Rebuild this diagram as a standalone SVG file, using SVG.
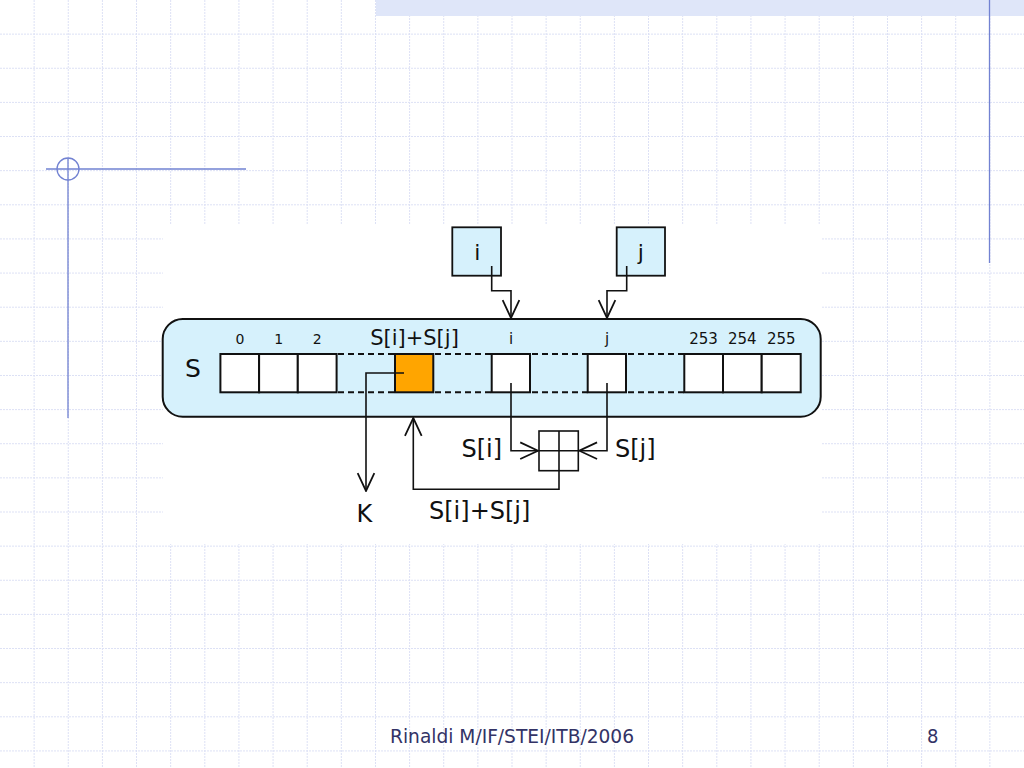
<svg xmlns="http://www.w3.org/2000/svg" width="1024" height="768" viewBox="0 0 1024 768">
<style>
  .grid { stroke: #dde1f5; stroke-width: 1; stroke-dasharray: 2 1; fill: none; }
  .deco { stroke: #7282d2; stroke-width: 1.3; fill: none; }
  .cell { fill: #ffffff; stroke: #111111; stroke-width: 2; }
  .dash { stroke: #111111; stroke-width: 2; stroke-dasharray: 6 4; fill: none; }
  .conn { stroke: #111111; stroke-width: 1.6; fill: none; }
  .t { font-family: "DejaVu Sans", Verdana, sans-serif; fill: #111111; }
  .foot { font-family: "DejaVu Sans Condensed", "DejaVu Sans", sans-serif; fill: #333366; font-size: 20px; }
</style>
<defs>
  <marker id="open" markerUnits="userSpaceOnUse" markerWidth="20" markerHeight="20" viewBox="-17 -9 18 18" refX="0" refY="0" orient="auto">
    <path d="M-16,-7.5 L0,0 L-16,7.5" fill="none" stroke="#111111" stroke-width="1.6"/>
  </marker>
</defs>

<g id="background">
  <rect x="0" y="0" width="1024" height="768" fill="#ffffff"/>
  <path class="grid" d="M34.13 0V768M68.27 0V768M102.4 0V768M136.53 0V768M170.67 0V768M204.8 0V768M238.93 0V768M273.07 0V768M307.2 0V768M341.33 0V768M375.47 0V768M409.6 0V768M443.73 0V768M477.87 0V768M512 0V768M546.13 0V768M580.27 0V768M614.4 0V768M648.53 0V768M682.67 0V768M716.8 0V768M750.93 0V768M785.07 0V768M819.2 0V768M853.33 0V768M887.47 0V768M921.6 0V768M955.73 0V768M989.87 0V768"/>
  <path class="grid" d="M0 34.13H1024M0 68.27H1024M0 102.4H1024M0 136.53H1024M0 170.67H1024M0 204.8H1024M0 238.93H1024M0 273.07H1024M0 307.2H1024M0 341.33H1024M0 375.47H1024M0 409.6H1024M0 443.73H1024M0 477.87H1024M0 512H1024M0 546.13H1024M0 580.27H1024M0 614.4H1024M0 648.53H1024M0 682.67H1024M0 716.8H1024M0 750.93H1024"/>
  <rect x="376" y="0" width="648" height="16" fill="#dfe6f9"/>
  <path class="deco" d="M989.5 0V263"/>
  <path class="deco" d="M46 169H246M68 158V418"/>
  <circle class="deco" cx="68" cy="169" r="11"/>
  <rect x="163" y="225" width="659" height="319" fill="#ffffff"/>
</g>

<g id="array-S">
  <rect x="162.7" y="319" width="658" height="97.7" rx="20" ry="20" fill="#d6f1fc" stroke="#111111" stroke-width="2"/>
  <text class="t" x="193" y="377" font-size="25" text-anchor="middle">S</text>
  <rect class="cell" x="220.4" y="354" width="38.7" height="38.3"/>
  <rect class="cell" x="259.1" y="354" width="38.7" height="38.3"/>
  <rect class="cell" x="297.8" y="354" width="38.8" height="38.3"/>
  <rect x="395" y="354" width="38.3" height="38.3" fill="#ffa500" stroke="#111111" stroke-width="2"/>
  <rect class="cell" x="491.7" y="354" width="38.3" height="38.3"/>
  <rect class="cell" x="587.7" y="354" width="38.3" height="38.3"/>
  <rect class="cell" x="684.3" y="354" width="38.7" height="38.3"/>
  <rect class="cell" x="723" y="354" width="38.7" height="38.3"/>
  <rect class="cell" x="761.7" y="354" width="39" height="38.3"/>
  <path class="dash" d="M338 354H395M338 392.3H395M435 354H491.7M435 392.3H491.7M532 354H587.7M532 392.3H587.7M628 354H684.3M628 392.3H684.3"/>
  <text class="t" x="240" y="344" font-size="14" text-anchor="middle">0</text>
  <text class="t" x="278.6" y="344" font-size="14" text-anchor="middle">1</text>
  <text class="t" x="317.3" y="344" font-size="14" text-anchor="middle">2</text>
  <text class="t" x="414.5" y="345" font-size="21" text-anchor="middle">S[i]+S[j]</text>
  <text class="t" x="511" y="344" font-size="15" text-anchor="middle">i</text>
  <text class="t" x="607" y="344" font-size="15" text-anchor="middle">j</text>
  <text class="t" x="703.6" y="344" font-size="15" text-anchor="middle">253</text>
  <text class="t" x="742.3" y="344" font-size="15" text-anchor="middle">254</text>
  <text class="t" x="781.2" y="344" font-size="15" text-anchor="middle">255</text>
</g>

<g id="box-i">
  <rect x="452.3" y="227.3" width="48.7" height="48.4" fill="#d6f1fc" stroke="#111111" stroke-width="1.8"/>
  <text class="t" x="477.3" y="259.5" font-size="22" text-anchor="middle">i</text>
</g>

<g id="box-j">
  <rect x="616.7" y="227.3" width="48.3" height="48.4" fill="#d6f1fc" stroke="#111111" stroke-width="1.8"/>
  <text class="t" x="640.8" y="259.5" font-size="22" text-anchor="middle">j</text>
</g>

<g id="adder">
  <rect x="539" y="431" width="39.3" height="39.7" fill="#ffffff" stroke="#111111" stroke-width="1.6"/>
  <path class="conn" d="M559 431V470.7M539 450.7H578.3"/>
</g>

<g id="connectors">
  <path class="conn" d="M491.7 266V290.7H511V318" marker-end="url(#open)"/>
  <path class="conn" d="M626.7 266V290.7H607V318" marker-end="url(#open)"/>
  <path class="conn" d="M511 383V450.7H538" marker-end="url(#open)"/>
  <path class="conn" d="M607 383V450.7H579.3" marker-end="url(#open)"/>
  <path class="conn" d="M559 470.7V489.3H413.3V418" marker-end="url(#open)"/>
  <path class="conn" d="M404 373H366V491" marker-end="url(#open)"/>
</g>

<g id="labels">
  <text class="t" x="461.5" y="457" font-size="24">S[i]</text>
  <text class="t" x="615" y="457" font-size="24">S[j]</text>
  <text class="t" x="356.5" y="522" font-size="24">K</text>
  <text class="t" x="429" y="518.5" font-size="24">S[i]+S[j]</text>
</g>

<g id="footer">
  <text class="foot" x="390" y="743" textLength="244" lengthAdjust="spacingAndGlyphs">Rinaldi M/IF/STEI/ITB/2006</text>
  <text class="foot" x="927" y="743">8</text>
</g>
</svg>
